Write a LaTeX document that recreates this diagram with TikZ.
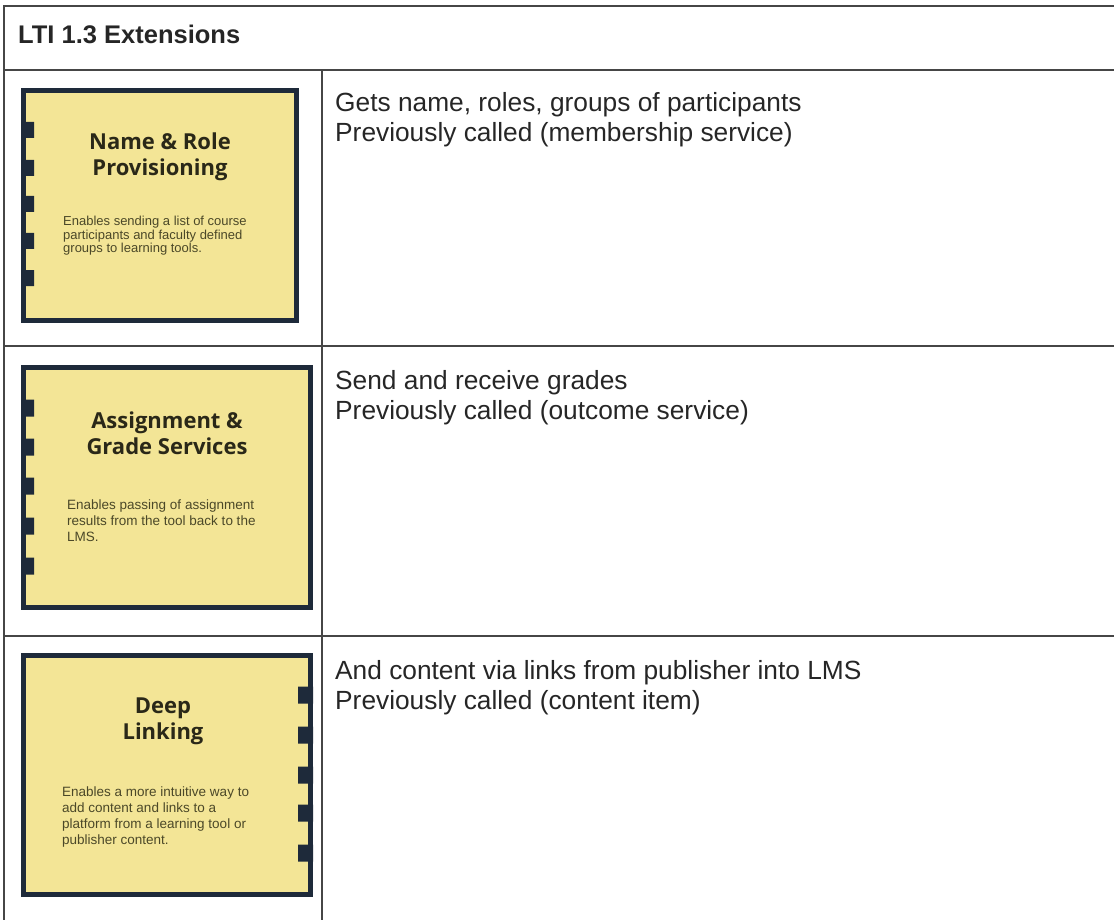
\documentclass[tikz,border=0pt]{standalone}
\usepackage{fontspec}
\setmainfont{Liberation Sans}
\newfontfamily\titlefont{Open Sans}
\usetikzlibrary{calc}
\definecolor{cardfill}{RGB}{243,229,150}
\definecolor{cardedge}{RGB}{30,42,58}
\definecolor{rulegray}{RGB}{70,70,70}
\definecolor{cardtext}{RGB}{42,40,24}
\definecolor{desctext}{RGB}{75,72,40}

\begin{document}
\begin{tikzpicture}
      [x=1pt,y=-1pt
    % линии таблицы и карточки
      ,ruleline/.style={draw=rulegray,line width=2pt}
      ,cardbox/.style={draw=cardedge,fill=cardfill,line width=5pt}
      ,cardtab/.style={fill=cardedge}
    % тексты
      ,headtext/.style={font=\fontsize{25.5}{30}\selectfont\bfseries,text=black!85,inner sep=0pt,anchor=north west}
      ,infotext/.style={font=\fontsize{26.3}{30.5}\selectfont,text=black!85,inner sep=0pt,anchor=north west,align=left}
      ,cardtitle/.style={font=\titlefont\fontsize{22}{26}\selectfont\bfseries,text=cardtext,inner sep=0pt,align=center}
      ,cardnote/.style={font=\fontsize{13.5}{16}\selectfont,text=desctext,inner sep=0pt,anchor=north west,align=left}
      ]
        \useasboundingbox (0,0) rectangle (1114,920);

    % сетка таблицы
        \draw[ruleline] (1114,6) -- (4,6) -- (4,920);
        \draw[ruleline] (4,70) -- (1114,70);
        \draw[ruleline] (4,346) -- (1114,346);
        \draw[ruleline] (4,636) -- (1114,636);
        \draw[ruleline] (322,70) -- (322,920);
        \node[headtext] (head) at (18,25) {LTI 1.3 Extensions};

    % первая карточка
        \coordinate (A) at (21,88);
        \filldraw[cardbox] ($(A)+(2.5,2.5)$) rectangle +(273,230);
        \fill[cardtab] ($(A)+(0,34)$) rectangle +(13,16)
                       ($(A)+(0,72)$) rectangle +(13,16)
                       ($(A)+(0,108)$) rectangle +(13,16)
                       ($(A)+(0,145)$) rectangle +(13,16)
                       ($(A)+(0,182)$) rectangle +(13,16);
        \node[cardtitle] (nrp) at ($(A)+(139,69)$) {Name \& Role\\Provisioning};
        \node[cardnote,font=\fontsize{13}{13.5}\selectfont] (nrpnote) at ($(A)+(42,128)$)
            {Enables sending a list of course\\participants and faculty defined\\groups to learning tools.};
        \node[infotext] (nrpinfo) at (335,92)
            {Gets name, roles, groups of participants\\Previously called (membership service)};

    % вторая карточка
        \coordinate (A) at (21,365);
        \filldraw[cardbox] ($(A)+(2.5,2.5)$) rectangle +(287,240);
        \fill[cardtab] ($(A)+(0,34.5)$) rectangle +(13,17)
                       ($(A)+(0,73.5)$) rectangle +(13,17)
                       ($(A)+(0,112.5)$) rectangle +(13,17)
                       ($(A)+(0,152.5)$) rectangle +(13,17)
                       ($(A)+(0,192.5)$) rectangle +(13,17);
        \node[cardtitle] (ags) at ($(A)+(146,68)$) {Assignment \&\\Grade Services};
        \node[cardnote] (agsnote) at ($(A)+(46,135)$)
            {Enables passing of assignment\\results from the tool back to the\\LMS.};
        \node[infotext] (agsinfo) at (335,370)
            {Send and receive grades\\Previously called (outcome service)};

    % третья карточка
        \coordinate (A) at (21,653);
        \filldraw[cardbox] ($(A)+(2.5,2.5)$) rectangle +(287,239);
        \fill[cardtab] ($(A)+(277,33.5)$) rectangle +(15,17)
                       ($(A)+(277,73.5)$) rectangle +(15,17)
                       ($(A)+(277,113.5)$) rectangle +(15,17)
                       ($(A)+(277,151.5)$) rectangle +(15,17)
                       ($(A)+(277,191.5)$) rectangle +(15,17);
        \node[cardtitle] (dl) at ($(A)+(142,68)$) {Deep\\Linking};
        \node[cardnote] (dlnote) at ($(A)+(41,134)$)
            {Enables a more intuitive way to\\add content and links to a\\platform from a learning tool or\\publisher content.};
        \node[infotext] (dlinfo) at (335,660)
            {And content via links from publisher into LMS\\Previously called (content item)};
       \end{tikzpicture}
\end{document}
